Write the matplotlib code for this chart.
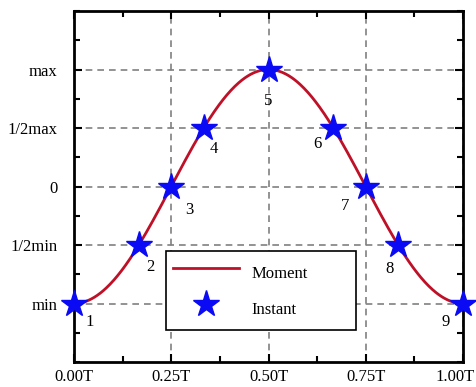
import numpy as np
import matplotlib.pyplot as plt
from matplotlib.ticker import MultipleLocator
from matplotlib.transforms import ScaledTranslation

plt.rcParams['font.family'] = ['Liberation Serif', 'DejaVu Serif']

# instants (fraction of period T) and moment level at each instant
inst_x = [0, 1/6, 1/4, 1/3, 1/2, 2/3, 3/4, 5/6, 1]
inst_y = [-1, -0.5, 0, 0.5, 1, 0.5, 0, -0.5, -1]
inst_labels = ['1', '2', '3', '4', '5', '6', '7', '8', '9']
# label offsets in pixels (dx, dy downwards)
label_off = [(16, 19), (12, 22), (18, 23), (10, 21), (0, 31),
             (-16, 16), (-21, 19), (-9, 24), (-17, 18)]

x_ticks = [0, 0.25, 0.5, 0.75, 1.0]
x_ticklabels = ['0.00T', '0.25T', '0.50T', '0.75T', '1.00T']
y_ticks = [-1, -0.5, 0, 0.5, 1]
y_ticklabels = ['min', '1/2min', '0', '1/2max', 'max']

t = np.linspace(0, 1, 400)
moment = -np.cos(2 * np.pi * t)

fig = plt.figure(figsize=(4.76, 3.87), dpi=100)
ax = fig.add_axes([74/476, 1 - 362/387, (463 - 74)/476, (362 - 11)/387])

ax.plot(t, moment, color='#BE1128', lw=2, label='Moment', zorder=3)
ax.plot(inst_x, inst_y, ls='none', marker='*', ms=20, color='#0A0AF5',
        label='Instant', clip_on=False, zorder=4)

for x, y, lab, (dx, dy) in zip(inst_x, inst_y, inst_labels, label_off):
    ax.annotate(lab, (x, y), xytext=(dx * 0.72, -dy * 0.72),
                textcoords='offset points', ha='center', va='center',
                fontsize=12)

ax.set_xlim(0, 1)
ax.set_ylim(-1.5, 1.5)
ax.set_xticks(x_ticks)
ax.set_xticklabels(x_ticklabels, fontsize=12)
ax.set_yticks(y_ticks)
ax.set_yticklabels(y_ticklabels, fontsize=12)
ax.xaxis.set_minor_locator(MultipleLocator(0.125))
ax.yaxis.set_minor_locator(MultipleLocator(0.25))
ax.tick_params(which='both', direction='in', top=True, right=True, width=1.5)
ax.tick_params(which='major', length=6)
ax.tick_params(which='minor', length=4)
ax.tick_params(axis='x', which='major', pad=5)
ax.tick_params(axis='y', which='major', pad=12)
for s in ax.spines.values():
    s.set_linewidth(2)

# last x label sits a little left so it stays inside the figure
lastlab = ax.get_xticklabels()[-1]
lastlab.set_transform(lastlab.get_transform() +
                      ScaledTranslation(-8/100, 0, fig.dpi_scale_trans))

ax.grid(True, which='major', ls='--', color='#808080', lw=1.2, dashes=(4, 3))

leg = ax.legend(loc='lower left', bbox_to_anchor=((166 - 74)/389, (362 - 330)/351,
                                                  (356 - 166)/389, (330 - 249)/351),
                mode='expand', borderaxespad=0, fontsize=12, fancybox=False,
                framealpha=1, edgecolor='black', handlelength=4.0,
                handleheight=2.3, borderpad=0.4, labelspacing=0.45,
                handletextpad=0.75)
leg.get_frame().set_linewidth(1.2)
leg.set_zorder(5)

fig.savefig('out.png', dpi=100)
